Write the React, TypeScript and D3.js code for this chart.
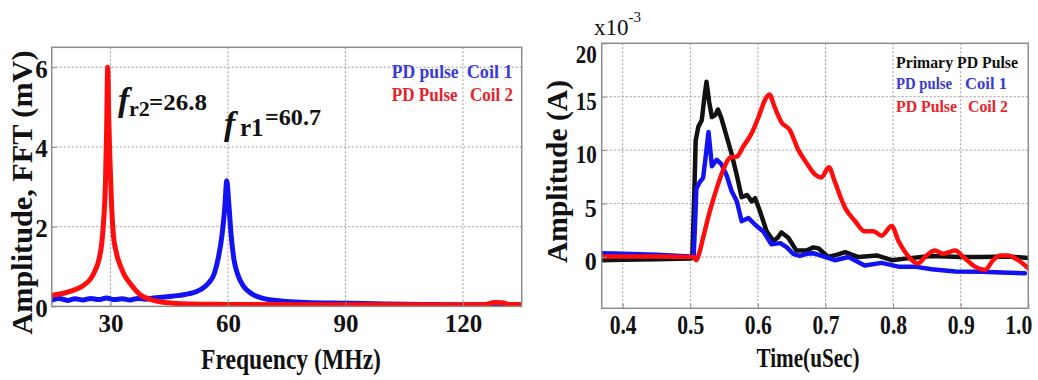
// Two panels: FFT spectrum of the coil signals (left) and the time-domain
// PD pulses (right).
import { useEffect, useRef } from "react";
import * as d3 from "d3";

const W = 1038;
const H = 380;
const SERIF = "'Liberation Serif', 'Times New Roman', serif";

const RED = "#ff0d0d";
const BLUE = "#1212f2";
const BLACK = "#111111";

// ---- left panel: FFT amplitude (mV) vs frequency (MHz)
const FREQ_DOMAIN: [number, number] = [15, 135];
const FFT_DOMAIN: [number, number] = [0, 6.5];
const FREQ_TICKS = [30, 60, 90, 120];
const FFT_TICKS = [0, 2, 4, 6];

const COIL1_FFT: [number, number][] = [
  [15, 0.16], [17, 0.2], [19, 0.15], [21, 0.19], [23, 0.16], [25, 0.2],
  [27, 0.17], [29, 0.21], [31, 0.17], [33, 0.19], [35, 0.16], [37, 0.2],
  [39, 0.18], [41, 0.21], [43, 0.23], [45, 0.25], [47, 0.27], [49, 0.3],
  [51, 0.34], [53, 0.42], [55, 0.58], [56.5, 0.82], [57.5, 1.2], [58.5, 1.8],
  [59.2, 2.5], [59.7, 3.15], [60.2, 2.6], [60.8, 1.8], [61.5, 1.2], [62.5, 0.8],
  [64, 0.5], [66, 0.32], [69, 0.2], [74, 0.13], [80, 0.1], [90, 0.08],
  [100, 0.06], [110, 0.05], [120, 0.04], [135, 0.04],
];

const COIL2_FFT: [number, number][] = [
  [15, 0.28], [18, 0.33], [21, 0.42], [23, 0.52], [25, 0.7], [26, 0.88],
  [27, 1.15], [27.8, 1.6], [28.3, 2.2], [28.7, 3.0], [29.0, 4.3], [29.3, 6.0],
  [29.6, 4.6], [29.9, 3.6], [30.3, 2.5], [30.7, 1.85], [31.5, 1.35], [32.4, 1.05],
  [33.5, 0.8], [35, 0.58], [37.5, 0.3], [40, 0.18], [43, 0.11], [46, 0.08],
  [50, 0.06], [60, 0.05], [80, 0.04], [100, 0.04], [120, 0.04], [126, 0.05],
  [128, 0.1], [130, 0.09], [132, 0.05], [135, 0.05],
];

// ---- right panel: amplitude (x1e-3 A) vs time (uSec)
const TIME_DOMAIN: [number, number] = [0.369, 1.0];
const AMP_DOMAIN: [number, number] = [-4.8, 20];
const TIME_TICKS = [0.4, 0.5, 0.6, 0.7, 0.8, 0.9, 1.0];
const AMP_TICKS = [0, 5, 10, 15, 20];

const PRIMARY: [number, number][] = [
  [0.369, -0.3], [0.4, -0.25], [0.45, -0.2], [0.5, -0.15], [0.503, -0.1],
  [0.506, 6], [0.508, 10.9], [0.512, 12.2], [0.517, 12.8], [0.521, 15],
  [0.524, 16.4], [0.528, 14.5], [0.532, 13.1], [0.537, 13.3], [0.541, 13.8],
  [0.546, 13], [0.551, 11.9], [0.561, 9.7], [0.569, 7.6], [0.576, 5.6],
  [0.584, 5.8], [0.591, 5.2], [0.596, 5.5], [0.603, 4.3], [0.613, 2.4],
  [0.623, 1.5], [0.629, 1.8], [0.635, 2.3], [0.645, 1.8], [0.657, 0.6],
  [0.672, 0.6], [0.682, 0.9], [0.69, 0.8], [0.704, 0], [0.716, 0.2],
  [0.729, 0.45], [0.749, 0], [0.776, 0.15], [0.798, -0.3], [0.818, -0.15],
  [0.857, 0.1], [0.9, 0], [0.931, 0], [0.97, 0.05], [1.0, -0.1],
];

const COIL1_T: [number, number][] = [
  [0.369, 0.35], [0.4, 0.3], [0.45, 0.2], [0.5, 0.05], [0.505, 0],
  [0.507, 3], [0.509, 6.4], [0.514, 7.0], [0.519, 7.4], [0.523, 9.5],
  [0.527, 11.7], [0.532, 8.5], [0.539, 9.1], [0.546, 8.7], [0.554, 7.6],
  [0.561, 6.2], [0.569, 5.2], [0.576, 3.35], [0.586, 3.65], [0.598, 2.9],
  [0.608, 2.4], [0.62, 1.2], [0.633, 1.3], [0.643, 0.9], [0.652, 0.3],
  [0.662, 0.1], [0.672, 0.3], [0.682, 0.35], [0.69, 0.2], [0.714, -0.3],
  [0.734, 0.0], [0.758, -0.8], [0.783, -0.55], [0.808, -0.9], [0.832, -0.9],
  [0.857, -1.15], [0.892, -1.35], [0.931, -1.37], [0.961, -1.46], [0.995, -1.52],
];

const COIL2_T: [number, number][] = [
  [0.369, 0.05], [0.45, 0.05], [0.505, 0], [0.509, -0.3], [0.513, 0.3],
  [0.519, 1.8], [0.529, 4.3], [0.539, 6.4], [0.549, 8.2], [0.559, 9.3],
  [0.569, 9.4], [0.578, 10.3], [0.591, 11.6], [0.601, 13.1], [0.611, 14.75],
  [0.617, 15.2], [0.625, 14.0], [0.635, 12.6], [0.647, 11.9], [0.66, 10.0],
  [0.672, 8.8], [0.685, 7.7], [0.694, 7.45], [0.705, 8.4], [0.714, 7.0],
  [0.729, 4.6], [0.744, 3.35], [0.758, 2.4], [0.771, 2.4], [0.783, 2.0],
  [0.798, 2.9], [0.808, 1.5], [0.818, 0.45], [0.828, -0.3], [0.837, -0.6],
  [0.847, 0], [0.862, 0.6], [0.874, 0.3], [0.892, 0.6], [0.904, 0],
  [0.921, -0.9], [0.936, -1.2], [0.948, -0.3], [0.958, 0.15], [0.97, 0.15],
  [0.985, -0.3], [1.0, -1.05],
];

type Box = { x0: number; x1: number; y0: number; y1: number };
const LEFT_BOX: Box = { x0: 51.7, x1: 521.7, y0: 47.3, y1: 306.4 };
const RIGHT_BOX: Box = { x0: 601.7, x1: 1028.3, y0: 43.3, y1: 308.3 };

type Sel = d3.Selection<SVGSVGElement, unknown, null, undefined>;

function panelFrame(
  svg: Sel, id: string, b: Box,
  x: d3.ScaleLinear<number, number>, y: d3.ScaleLinear<number, number>,
  xGrid: number[], yGrid: number[],
) {
  svg.append("defs").append("clipPath").attr("id", id)
    .append("rect").attr("x", b.x0).attr("y", b.y0)
    .attr("width", b.x1 - b.x0).attr("height", b.y1 - b.y0);

  const grid = svg.append("g").attr("stroke", "#9a9a9a")
    .attr("stroke-width", 1).attr("stroke-dasharray", "2,2");
  xGrid.forEach((v) => {
    grid.append("line").attr("x1", x(v)).attr("x2", x(v))
      .attr("y1", b.y0).attr("y2", b.y1);
  });
  yGrid.forEach((v) => {
    grid.append("line").attr("x1", b.x0).attr("x2", b.x1)
      .attr("y1", y(v)).attr("y2", y(v));
  });
}

function drawLine(
  svg: Sel, clip: string, pts: [number, number][],
  x: d3.ScaleLinear<number, number>, y: d3.ScaleLinear<number, number>,
  color: string, width: number, curve: d3.CurveFactory,
) {
  const line = d3.line<[number, number]>()
    .x((d) => x(d[0])).y((d) => y(d[1])).curve(curve);
  svg.append("path").datum(pts)
    .attr("clip-path", `url(#${clip})`)
    .attr("d", line)
    .attr("fill", "none")
    .attr("stroke", color)
    .attr("stroke-width", width)
    .attr("stroke-linejoin", "round")
    .attr("stroke-linecap", "round");
}

function boxOutline(svg: Sel, b: Box) {
  svg.append("rect").attr("x", b.x0).attr("y", b.y0)
    .attr("width", b.x1 - b.x0).attr("height", b.y1 - b.y0)
    .attr("fill", "none").attr("stroke", "#8c8c8c").attr("stroke-width", 1.5);
}

function txt(
  g: d3.Selection<any, unknown, null, undefined>,
  s: string, x: number, y: number, size: number,
  opts: { fill?: string; len?: number; anchor?: string; weight?: string; style?: string } = {},
) {
  const t = g.append("text").attr("x", x).attr("y", y)
    .attr("font-family", SERIF).attr("font-size", size)
    .attr("font-weight", opts.weight ?? "bold")
    .attr("font-style", opts.style ?? "normal")
    .attr("fill", opts.fill ?? BLACK)
    .attr("text-anchor", opts.anchor ?? "start")
    .text(s);
  if (opts.len) t.attr("textLength", opts.len).attr("lengthAdjust", "spacingAndGlyphs");
  return t;
}

export default function App() {
  const ref = useRef<SVGSVGElement | null>(null);

  useEffect(() => {
    if (!ref.current) return;
    const svg = d3.select(ref.current);
    svg.selectAll("*").remove();

    // ---------- left panel
    const xL = d3.scaleLinear().domain(FREQ_DOMAIN).range([LEFT_BOX.x0, LEFT_BOX.x1]);
    const yL = d3.scaleLinear().domain(FFT_DOMAIN).range([LEFT_BOX.y1, LEFT_BOX.y0]);
    panelFrame(svg, "clipL", LEFT_BOX, xL, yL, FREQ_TICKS, FFT_TICKS.filter((v) => v > 0));

    drawLine(svg, "clipL", COIL1_FFT, xL, yL, BLUE, 5, d3.curveMonotoneX);
    drawLine(svg, "clipL", COIL2_FFT, xL, yL, RED, 5, d3.curveMonotoneX);

    const axL = svg.append("g").attr("transform", `translate(0,${LEFT_BOX.y1})`)
      .call(d3.axisBottom(xL).tickValues(FREQ_TICKS).tickFormat(d3.format("d"))
        .tickSizeInner(-5).tickSizeOuter(0));
    axL.select(".domain").remove();
    axL.selectAll("line").attr("stroke", "#8c8c8c");
    axL.selectAll("text").attr("y", 25.3).attr("dy", null)
      .attr("font-family", SERIF).attr("font-size", 25).attr("font-weight", "bold")
      .attr("fill", BLACK);

    const ayL = svg.append("g").attr("transform", `translate(${LEFT_BOX.x0},0)`)
      .call(d3.axisLeft(yL).tickValues(FFT_TICKS).tickFormat(d3.format("d"))
        .tickSizeInner(-5).tickSizeOuter(0));
    ayL.select(".domain").remove();
    ayL.selectAll("line").attr("stroke", "#8c8c8c");
    ayL.selectAll("text").attr("x", -4).attr("dy", "0.4em")
      .attr("font-family", SERIF).attr("font-size", 25).attr("font-weight", "bold")
      .attr("fill", BLACK);

    boxOutline(svg, LEFT_BOX);

    txt(svg, "Frequency (MHz)", 291, 369, 29, { anchor: "middle", len: 180 });
    txt(svg, "Amplitude, FFT (mV)", 0, 0, 30, { anchor: "middle", len: 284 })
      .attr("transform", "translate(32,192.5) rotate(-90)");

    txt(svg, "PD pulse", 391.7, 78.3, 19, { fill: "#3a3ad6", len: 67 });
    txt(svg, "Coil 1", 466.7, 78.3, 19, { fill: "#3a3ad6", len: 46 });
    txt(svg, "PD Pulse", 391.7, 101, 19, { fill: "#e8222a", len: 66 });
    txt(svg, "Coil 2", 470, 101, 19, { fill: "#e8222a", len: 43 });

    // resonance annotations
    txt(svg, "f", 118, 111, 34, { style: "italic" });
    txt(svg, "r2", 129, 116, 22);
    txt(svg, "=26.8", 149, 110, 23, { len: 58 });
    txt(svg, "f", 224, 135, 34, { style: "italic" });
    txt(svg, "r1", 240, 136, 25);
    txt(svg, "=60.7", 265, 125, 23, { len: 56 });

    // ---------- right panel
    const xR = d3.scaleLinear().domain(TIME_DOMAIN).range([RIGHT_BOX.x0, RIGHT_BOX.x1]);
    const yR = d3.scaleLinear().domain(AMP_DOMAIN).range([RIGHT_BOX.y1, RIGHT_BOX.y0]);
    panelFrame(svg, "clipR", RIGHT_BOX, xR, yR,
      TIME_TICKS.filter((v) => v < 1), AMP_TICKS.filter((v) => v < 20));

    drawLine(svg, "clipR", PRIMARY, xR, yR, BLACK, 4.5, d3.curveLinear);
    drawLine(svg, "clipR", COIL1_T, xR, yR, BLUE, 4.5, d3.curveLinear);
    drawLine(svg, "clipR", COIL2_T, xR, yR, RED, 4.5, d3.curveMonotoneX);

    const axR = svg.append("g").attr("transform", `translate(0,${RIGHT_BOX.y1})`)
      .call(d3.axisBottom(xR).tickValues(TIME_TICKS).tickFormat(d3.format(".1f"))
        .tickSizeInner(-5).tickSizeOuter(0));
    axR.select(".domain").remove();
    axR.selectAll("line").attr("stroke", "#8c8c8c");
    axR.selectAll<SVGTextElement, number>("text").attr("y", 26).attr("dy", null)
      .attr("font-family", SERIF).attr("font-size", 27).attr("font-weight", "bold")
      .attr("fill", BLACK).attr("textLength", 27).attr("lengthAdjust", "spacingAndGlyphs")
      .attr("text-anchor", "middle")
      .attr("x", (d) => (d === 1 ? -10 : 0));

    const ayR = svg.append("g").attr("transform", `translate(${RIGHT_BOX.x0},0)`)
      .call(d3.axisLeft(yR).tickValues(AMP_TICKS).tickFormat(d3.format("d"))
        .tickSizeInner(-5).tickSizeOuter(0));
    ayR.select(".domain").remove();
    ayR.selectAll("line").attr("stroke", "#8c8c8c");
    ayR.selectAll<SVGTextElement, number>("text").attr("x", -5)
      .attr("dy", (d) => (d === 20 ? "0.75em" : "0.5em"))
      .attr("font-family", SERIF).attr("font-size", 25).attr("font-weight", "bold")
      .attr("fill", BLACK).attr("textLength", (d) => (d === 0 || d === 5 ? 12 : 21))
      .attr("lengthAdjust", "spacingAndGlyphs");

    boxOutline(svg, RIGHT_BOX);

    // axis multiplier x10^-3
    const mult = txt(svg, "x10", 594, 35, 23, { weight: "normal" });
    mult.append("tspan").attr("font-size", 15).attr("dy", -13).text("-3");

    txt(svg, "Time(uSec)", 808, 367, 28, { anchor: "middle", len: 103 });
    txt(svg, "Amplitude (A)", 0, 0, 30, { anchor: "middle", len: 183 })
      .attr("transform", "translate(567,171.5) rotate(-90)");

    txt(svg, "Primary PD Pulse", 896, 68.3, 17, { len: 122 });
    txt(svg, "PD pulse", 896, 89.3, 17, { fill: "#3a3ad6", len: 56 });
    txt(svg, "Coil 1", 965, 89.3, 17, { fill: "#3a3ad6", len: 42 });
    txt(svg, "PD Pulse", 896, 111.7, 17, { fill: "#e8222a", len: 61 });
    txt(svg, "Coil 2", 968, 111.7, 17, { fill: "#e8222a", len: 40 });
  }, []);

  return (
    <svg
      ref={ref}
      width={W}
      height={H}
      viewBox={`0 0 ${W} ${H}`}
      style={{ position: "absolute", left: 0, top: 0, background: "#fff" }}
    />
  );
}
